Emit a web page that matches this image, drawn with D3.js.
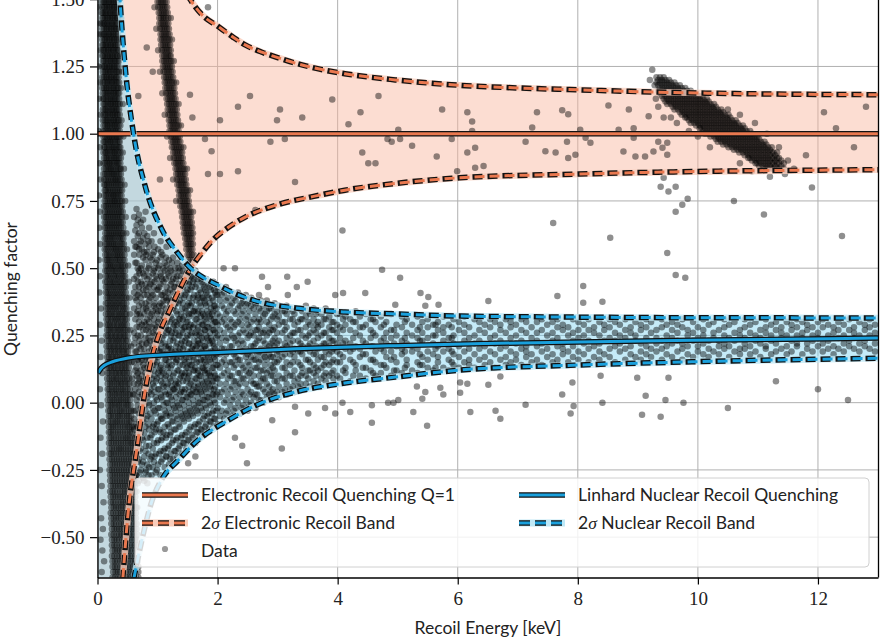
<!DOCTYPE html>
<html>
<head>
<meta charset="utf-8">
<script src="https://cdn.jsdelivr.net/npm/d3@7/dist/d3.min.js"></script>
<style>
  body { margin: 0; background: #fff; }
  svg { display: block; }
</style>
</head>
<body>
<svg id="chart" width="883" height="641"></svg>
<script>
// ---------- axis ticks ----------
const xTicks = [0, 2, 4, 6, 8, 10, 12];
const yTicks = [-0.5, -0.25, 0, 0.25, 0.5, 0.75, 1, 1.25, 1.5];

// ---------- model curves (energy in keV, quenching factor) ----------
const erLineE = [0, 13];
const erLineQ = [1, 1];

const erUpperE = [1.38, 1.45, 1.57, 1.75, 2.0, 2.25, 2.46, 2.75, 3.0, 3.3, 3.58, 4.12, 4.96, 6.03, 7.0, 8.02, 9.6, 11.0, 13.0];
const erUpperQ = [1.57, 1.535, 1.49, 1.44, 1.40, 1.36, 1.33, 1.302, 1.283, 1.262, 1.246, 1.223, 1.2, 1.18, 1.17, 1.163, 1.153, 1.148, 1.145];

const erLowerE = [0.42, 0.51, 0.66, 0.79, 0.93, 1.05, 1.18, 1.375, 1.57, 1.74, 1.9, 2.18, 2.46, 3.0, 3.58, 4.12, 4.96, 6.03, 8.02, 9.6, 13.0];
const erLowerQ = [-0.66, -0.41, -0.166, 0.04, 0.188, 0.27, 0.333, 0.425, 0.505, 0.557, 0.6, 0.652, 0.69, 0.736, 0.766, 0.79, 0.815, 0.836, 0.85, 0.858, 0.866];

const nrLineE = [0.005, 0.06, 0.125, 0.25, 0.51, 1.07, 2.18, 3.3, 4.96, 6.5, 8.02, 9.9, 13.0];
const nrLineQ = [0.11, 0.128, 0.14, 0.152, 0.166, 0.177, 0.188, 0.2, 0.212, 0.22, 0.226, 0.232, 0.24];

const nrUpperE = [0.33, 0.375, 0.46, 0.6, 0.8, 1.07, 1.34, 1.55, 1.8, 2.0, 2.2, 2.74, 3.3, 4.12, 4.96, 6.03, 8.02, 9.6, 13.0];
const nrUpperQ = [1.7, 1.5, 1.25, 1.0, 0.8, 0.645, 0.555, 0.5, 0.46, 0.438, 0.415, 0.372, 0.352, 0.337, 0.33, 0.322, 0.318, 0.316, 0.315];

const nrLowerE = [0.6, 0.75, 0.9, 1.09, 1.34, 1.62, 2.18, 2.74, 3.3, 4.12, 4.96, 6.03, 8.02, 9.9, 13.0];
const nrLowerQ = [-0.66, -0.5, -0.37, -0.278, -0.215, -0.15, -0.065, 0, 0.04, 0.073, 0.095, 0.121, 0.14, 0.152, 0.165];

// ---------- measured events ----------
// low-energy band: [Q, E, E, ...]
const lowBandRows = [
[1.49,.07,.1,.12,.15,.18,.2,.23,.26,.28,.31,.34],[1.47,.08,.11,.13,.16,.19,.21,.24,.27,.29,.32,.35,.02],
[1.45,.07,.09,.12,.14,.17,.2,.22,.25,.28,.3,.33],[1.43,.08,.1,.13,.16,.18,.21,.24,.26,.29,.32,.34,.39],
[1.41,.07,.1,.12,.15,.17,.2,.23,.25,.28,.31,.33,.04],[1.39,.08,.11,.14,.16,.19,.22,.24,.27,.3,.32,.35],
[1.37,.07,.1,.12,.15,.18,.2,.23,.26,.28,.31,.34,.03],[1.35,.08,.11,.13,.16,.19,.21,.24,.27,.29,.32,.35,.4],
[1.33,.08,.1,.13,.15,.18,.21,.23,.26,.29,.31,.34],[1.31,.09,.11,.14,.17,.19,.22,.25,.27,.3,.33,.35,.05],
[1.29,.08,.1,.13,.16,.18,.21,.24,.26,.29,.32,.34,.38],[1.27,.09,.11,.14,.17,.2,.22,.25,.28,.3,.33,.36],
[1.25,.08,.11,.13,.16,.19,.21,.24,.27,.29,.32,.35,.02],[1.23,.09,.12,.14,.17,.2,.22,.25,.28,.31,.33,.36,.41],
[1.21,.08,.11,.14,.16,.19,.22,.24,.27,.3,.32,.35],[1.19,.09,.12,.15,.17,.2,.23,.25,.28,.31,.33,.36,.04],
[1.17,.08,.11,.14,.16,.19,.22,.25,.27,.3,.33,.35,.39],[1.15,.09,.12,.15,.17,.2,.23,.26,.28,.31,.34,.36],
[1.13,.09,.11,.14,.17,.2,.22,.25,.28,.3,.33,.36,.03],[1.11,.1,.12,.15,.18,.21,.23,.26,.29,.31,.34,.37,.42],
[1.09,.09,.12,.14,.17,.2,.23,.25,.28,.31,.33,.36],[1.07,.1,.13,.15,.18,.21,.24,.26,.29,.32,.34,.37,.05],
[1.05,.09,.12,.15,.17,.2,.23,.26,.28,.31,.34,.36,.4],[1.03,.1,.13,.16,.18,.21,.24,.27,.29,.32,.35,.38],
[1.01,.09,.12,.15,.18,.2,.23,.26,.29,.31,.34,.37,.02],[.99,.1,.13,.16,.19,.21,.24,.27,.3,.32,.35,.38,.43],
[.97,.1,.12,.15,.18,.21,.23,.26,.29,.32,.35,.37],[.95,.11,.13,.16,.19,.22,.25,.27,.3,.33,.36,.38,.04],
[.93,.1,.13,.15,.18,.21,.24,.27,.29,.32,.35,.38,.42],[.91,.11,.14,.16,.19,.22,.25,.28,.3,.33,.36,.39],
[.89,.1,.13,.16,.19,.21,.24,.27,.3,.33,.35,.38,.03],[.87,.11,.14,.17,.2,.22,.25,.28,.31,.34,.37,.39,.44],
[.85,.1,.13,.16,.19,.22,.25,.27,.3,.33,.36,.39],[.83,.11,.14,.17,.2,.23,.26,.29,.31,.34,.37,.4,.05],
[.81,.11,.13,.16,.19,.22,.25,.28,.31,.34,.37,.4,.45],[.79,.12,.14,.17,.2,.23,.26,.29,.32,.35,.38,.41],
[.77,.11,.14,.17,.2,.23,.26,.28,.31,.34,.37,.4,.02],[.75,.12,.15,.18,.21,.24,.27,.29,.32,.35,.38,.41,.46],
[.73,.11,.14,.17,.2,.23,.26,.29,.32,.35,.38,.41],[.71,.12,.15,.18,.21,.24,.27,.3,.33,.36,.39,.42,.04],
[.69,.11,.14,.17,.2,.23,.26,.29,.32,.35,.38,.41,.47],[.67,.12,.15,.18,.21,.24,.27,.3,.33,.36,.39,.42],
[.65,.12,.15,.18,.21,.24,.27,.3,.33,.36,.39,.43,.03],[.63,.13,.16,.19,.22,.25,.28,.31,.34,.37,.4,.43,.48],
[.61,.12,.15,.18,.21,.24,.27,.3,.34,.37,.4,.43],[.59,.13,.16,.19,.22,.25,.28,.31,.34,.38,.41,.44,.05],
[.57,.12,.15,.18,.22,.25,.28,.31,.34,.37,.4,.44,.49],[.55,.13,.16,.19,.22,.26,.29,.32,.35,.38,.41,.45],
[.53,.13,.16,.19,.22,.25,.29,.32,.35,.38,.42,.45,.02],[.51,.14,.17,.2,.23,.26,.29,.33,.36,.39,.42,.46,.51],
[.49,.13,.16,.19,.23,.26,.29,.32,.36,.39,.42,.46],[.47,.14,.17,.2,.23,.27,.3,.33,.36,.4,.43,.46,.04],
[.45,.13,.16,.2,.23,.26,.29,.33,.36,.39,.43,.46,.52],[.43,.14,.17,.2,.24,.27,.3,.34,.37,.4,.44,.47],
[.41,.14,.17,.2,.23,.27,.3,.33,.37,.4,.43,.47,.03],[.39,.15,.18,.21,.24,.28,.31,.34,.38,.41,.44,.48,.53],
[.37,.14,.17,.21,.24,.27,.31,.34,.37,.41,.44,.48],[.35,.15,.18,.21,.25,.28,.31,.35,.38,.42,.45,.48,.06],
[.33,.14,.18,.21,.24,.28,.31,.35,.38,.41,.45,.48,.54],[.31,.15,.18,.22,.25,.29,.32,.35,.39,.42,.46,.49],
[.29,.15,.18,.21,.25,.28,.32,.35,.39,.42,.45,.49,.04],[.27,.16,.19,.22,.26,.29,.33,.36,.39,.43,.46,.5,.55],
[.25,.15,.18,.22,.25,.29,.32,.36,.39,.43,.46,.5],[.23,.16,.19,.23,.26,.3,.33,.36,.4,.43,.47,.5,.07],
[.21,.15,.19,.22,.26,.29,.33,.36,.4,.43,.47,.51,.56],[.19,.16,.2,.23,.27,.3,.34,.37,.41,.44,.48,.51],
[.17,.16,.19,.23,.26,.3,.33,.37,.41,.44,.48,.51,.05],[.15,.17,.2,.24,.27,.31,.34,.38,.41,.45,.48,.52,.57],
[.13,.16,.2,.23,.27,.3,.34,.38,.41,.45,.48,.52],[.11,.17,.2,.24,.28,.31,.35,.38,.42,.45,.49,.53,.08],
[.09,.16,.2,.24,.27,.31,.34,.38,.42,.45,.49,.53,.58],[.07,.17,.21,.24,.28,.32,.35,.39,.42,.46,.5,.53],
[.05,.17,.2,.24,.28,.31,.35,.39,.42,.46,.5,.54,.04],[.03,.18,.21,.25,.29,.32,.36,.4,.43,.47,.51,.54,.59],
[.01,.17,.21,.25,.28,.32,.36,.39,.43,.47,.5,.54],[-.01,.18,.22,.25,.29,.33,.36,.4,.44,.48,.51,.55,.06],
[-.03,.18,.21,.25,.29,.33,.37,.4,.44,.48,.52,.56,.6],[-.05,.19,.22,.26,.3,.34,.37,.41,.45,.49,.52,.56],
[-.07,.18,.22,.26,.3,.33,.37,.41,.45,.49,.53,.56,.09],[-.09,.19,.23,.26,.3,.34,.38,.42,.46,.5,.53,.57,.61],
[-.11,.19,.22,.26,.3,.34,.38,.42,.46,.5,.54,.57],[-.13,.2,.23,.27,.31,.35,.39,.43,.47,.5,.54,.58,.05],
[-.15,.19,.23,.27,.31,.35,.39,.43,.47,.51,.55,.58,.62],[-.17,.2,.24,.28,.32,.36,.39,.43,.47,.51,.55,.59],
[-.19,.2,.23,.27,.31,.35,.39,.43,.47,.51,.55,.59,.08],[-.21,.2,.24,.28,.32,.36,.4,.44,.48,.52,.56,.6,.63],
[-.23,.21,.25,.29,.33,.37,.41,.45,.49,.53,.57,.6],[-.25,.2,.24,.28,.32,.36,.4,.44,.48,.52,.56,.6,.04],
[-.27,.21,.25,.29,.33,.37,.41,.45,.49,.53,.57,.61,.64],[-.29,.21,.25,.29,.33,.37,.41,.45,.49,.53,.57,.61],
[-.31,.22,.26,.3,.34,.38,.42,.46,.5,.54,.58,.62,.07],[-.33,.21,.25,.29,.33,.38,.42,.46,.5,.54,.58,.62,.65],
[-.35,.22,.26,.3,.34,.38,.42,.46,.51,.55,.59,.63],[-.37,.22,.26,.3,.35,.39,.43,.47,.51,.55,.59,.63,.1],
[-.39,.23,.27,.31,.35,.39,.43,.47,.51,.56,.6,.64,.66],[-.41,.22,.26,.31,.35,.39,.43,.47,.52,.56,.6,.64],
[-.43,.23,.27,.31,.35,.39,.44,.48,.52,.56,.6,.64,.06],[-.45,.23,.27,.31,.36,.4,.44,.48,.52,.57,.61,.65],
[-.47,.24,.28,.32,.36,.4,.44,.49,.53,.57,.61,.65,.09],[-.49,.23,.27,.32,.36,.4,.44,.49,.53,.57,.61,.66],
[-.51,.24,.28,.32,.36,.41,.45,.49,.53,.58,.62,.66,.05],[-.53,.24,.28,.32,.37,.41,.45,.49,.54,.58,.62,.66],
[-.55,.25,.29,.33,.37,.41,.46,.5,.54,.58,.63,.67,.08],[-.57,.24,.28,.33,.37,.41,.45,.5,.54,.58,.63,.67],
[-.59,.25,.29,.33,.38,.42,.46,.5,.55,.59,.63,.67,.11],[-.61,.25,.29,.33,.38,.42,.46,.51,.55,.59,.64,.68],
[-.63,.26,.3,.34,.38,.43,.47,.51,.56,.6,.64,.68,.07],[-.65,.25,.29,.34,.38,.42,.47,.51,.55,.6,.64,.68]
];

// curved stripe near 1 keV: [Q, E, E, ...]
const stripeRows = [
[1.49,1.0,1.03,1.06,1.09,1.12,1.15],[1.47,1.01,1.04,1.07,1.1,1.13,1.16,.95],[1.45,1.02,1.05,1.08,1.11,1.14,1.17],
[1.43,1.03,1.06,1.09,1.11,1.14,1.18,1.22],[1.41,1.03,1.06,1.09,1.12,1.15,1.18],[1.39,1.04,1.07,1.1,1.13,1.16,1.19,.98],
[1.37,1.05,1.08,1.11,1.14,1.17,1.2],[1.35,1.05,1.08,1.11,1.14,1.17,1.2,1.24],[1.33,1.06,1.09,1.12,1.15,1.18,1.21],
[1.31,1.07,1.1,1.13,1.16,1.19,1.22,1.01],[1.29,1.08,1.11,1.14,1.17,1.2,1.22],[1.27,1.08,1.11,1.14,1.17,1.2,1.23,1.27],
[1.25,1.09,1.12,1.15,1.18,1.21,1.24],[1.23,1.1,1.13,1.16,1.19,1.22,1.25,1.04],[1.21,1.11,1.14,1.17,1.2,1.23,1.26],
[1.19,1.12,1.15,1.18,1.21,1.24,1.27,1.31],[1.17,1.13,1.16,1.19,1.22,1.25,1.28],[1.15,1.14,1.17,1.2,1.23,1.26,1.29,1.08],
[1.13,1.15,1.18,1.21,1.24,1.27,1.3],[1.11,1.16,1.19,1.22,1.25,1.28,1.31,1.35],[1.09,1.17,1.2,1.23,1.26,1.29,1.32],
[1.07,1.18,1.21,1.24,1.27,1.3,1.33,1.12],[1.05,1.19,1.22,1.25,1.28,1.31,1.34],[1.03,1.2,1.23,1.26,1.29,1.32,1.35,1.39],
[1.01,1.2,1.23,1.26,1.29,1.32,1.35],[.99,1.22,1.25,1.28,1.31,1.34,1.37,1.16],[.97,1.23,1.26,1.29,1.32,1.35,1.38],
[.95,1.24,1.27,1.3,1.33,1.36,1.39,1.43],[.93,1.26,1.29,1.32,1.35,1.38,1.41],[.91,1.27,1.3,1.33,1.36,1.39,1.42,1.21],
[.89,1.28,1.31,1.34,1.37,1.4,1.43],[.87,1.3,1.33,1.36,1.39,1.42,1.45,1.49],[.85,1.31,1.34,1.37,1.4,1.43,1.46],
[.83,1.32,1.35,1.38,1.41,1.44,1.47,1.26],[.81,1.33,1.36,1.39,1.42,1.45,1.48],[.79,1.35,1.38,1.41,1.44,1.47,1.5,1.54],
[.77,1.36,1.39,1.42,1.45,1.48,1.51],[.75,1.37,1.4,1.43,1.46,1.49,1.52,1.31],[.73,1.38,1.41,1.44,1.47,1.5,1.53],
[.71,1.4,1.43,1.46,1.49,1.52,1.55,1.59],[.69,1.41,1.44,1.47,1.5,1.53,1.56],[.67,1.42,1.45,1.48,1.51,1.54,1.57],
[.65,1.43,1.46,1.49,1.52,1.55,1.58],[.63,1.44,1.47,1.5,1.53,1.56,1.59],[.61,1.46,1.49,1.52,1.55,1.58],
[.59,1.47,1.5,1.53,1.56,1.59],[.57,1.48,1.52,1.55,1.58],[.55,1.5,1.53,1.57,1.6],[.53,1.51,1.55,1.59],
[.51,1.53,1.57],[.49,1.55,1.6],[.47,1.57]
];

// cluster near 10 keV: [E, Q, Q, ...]
const clusterCols = [
[9.31,1.21,1.19],[9.34,1.2,1.18,1.16],[9.37,1.21,1.19,1.17,1.15],[9.4,1.2,1.18,1.16,1.14],[9.43,1.21,1.19,1.17,1.15,1.13],
[9.46,1.2,1.18,1.16,1.14,1.12],[9.49,1.19,1.17,1.15,1.13,1.11],[9.52,1.2,1.18,1.16,1.14,1.12],
[9.55,1.19,1.17,1.15,1.13,1.11],[9.58,1.18,1.16,1.14,1.12,1.1],[9.61,1.19,1.17,1.15,1.13,1.11,1.09],
[9.64,1.18,1.16,1.14,1.12,1.1],[9.67,1.17,1.15,1.13,1.11,1.09],[9.7,1.18,1.16,1.14,1.12,1.1,1.08],
[9.73,1.17,1.15,1.13,1.11,1.09,1.07],[9.76,1.16,1.14,1.12,1.1,1.08],[9.79,1.17,1.15,1.13,1.11,1.09,1.07,1.06],
[9.82,1.16,1.14,1.12,1.1,1.08,1.06],[9.85,1.15,1.13,1.11,1.09,1.07,1.05],[9.88,1.16,1.14,1.12,1.1,1.08,1.06,1.04],
[9.91,1.15,1.13,1.11,1.09,1.07,1.05],[9.94,1.14,1.12,1.1,1.08,1.06,1.04],[9.97,1.15,1.13,1.11,1.09,1.07,1.05,1.03],
[10.0,1.14,1.12,1.1,1.08,1.06,1.04],[10.03,1.13,1.11,1.09,1.07,1.05,1.03,1.02],[10.06,1.14,1.12,1.1,1.08,1.06,1.04,1.02],
[10.09,1.13,1.11,1.09,1.07,1.05,1.03,1.01],[10.12,1.12,1.1,1.08,1.06,1.04,1.02,1.0],[10.15,1.13,1.11,1.09,1.07,1.05,1.03,1.01],
[10.18,1.12,1.1,1.08,1.06,1.04,1.02,1.0],[10.21,1.11,1.09,1.07,1.05,1.03,1.01,.99],[10.24,1.1,1.08,1.06,1.04,1.02,1.0],
[10.27,1.11,1.09,1.07,1.05,1.03,1.01,.99],[10.3,1.1,1.08,1.06,1.04,1.02,1.0,.98],[10.33,1.09,1.07,1.05,1.03,1.01,.99,.97],
[10.36,1.08,1.06,1.04,1.02,1.0,.98],[10.39,1.09,1.07,1.05,1.03,1.01,.99,.97],[10.42,1.08,1.06,1.04,1.02,1.0,.98,.96],
[10.45,1.07,1.05,1.03,1.01,.99,.97],[10.48,1.06,1.04,1.02,1.0,.98,.96],[10.51,1.07,1.05,1.03,1.01,.99,.97,.95],
[10.54,1.06,1.04,1.02,1.0,.98,.96],[10.57,1.05,1.03,1.01,.99,.97,.95],[10.6,1.04,1.02,1.0,.98,.96,.94],
[10.63,1.05,1.03,1.01,.99,.97,.95],[10.66,1.04,1.02,1.0,.98,.96,.94],[10.69,1.03,1.01,.99,.97,.95,.93],
[10.72,1.02,1.0,.98,.96,.94],[10.75,1.03,1.01,.99,.97,.95,.93],[10.78,1.02,1.0,.98,.96,.94,.92],
[10.81,1.01,.99,.97,.95,.93],[10.84,1.0,.98,.96,.94,.92,.91],[10.87,1.01,.99,.97,.95,.93,.91],
[10.9,1.0,.98,.96,.94,.92,.9],[10.93,.99,.97,.95,.93,.91],[10.96,.98,.96,.94,.92,.9,.89],
[10.99,.99,.97,.95,.93,.91,.89],[11.02,.98,.96,.94,.92,.9,.88],[11.05,.97,.95,.93,.91,.89],
[11.08,.96,.94,.92,.9,.88],[11.11,.97,.95,.93,.91,.89,.87],[11.14,.96,.94,.92,.9,.88],
[11.17,.95,.93,.91,.89,.87],[11.2,.94,.92,.9,.88],[11.23,.95,.93,.91,.89,.87],[11.26,.93,.91,.89,.87],
[11.29,.92,.9,.88],[11.32,.93,.91,.89,.87],[11.35,.91,.89,.87],[11.39,.9,.88],[11.43,.89,.87]
];

// nuclear-recoil population: [E, Q, Q, ...]
const nuclearCols = [
[.61,-.3,-.24,-.19,-.1,-.06,.03,.07,.15,.22,.26,.35,.41,.46,.55,.6,.69],
[.65,-.27,-.2,-.12,-.08,.01,.1,.13,.19,.28,.33,.38,.47,.52,.58,.66,.72],
[.69,-.29,-.21,-.15,-.04,.04,.09,.17,.21,.3,.36,.43,.49,.57,.63,.7],
[.72,-.25,-.17,-.11,-.02,.06,.12,.2,.25,.32,.39,.45,.5,.6,.67],
[.76,-.28,-.22,-.14,-.07,0,.08,.14,.18,.27,.35,.42,.48,.54,.61,.68],
[.8,-.26,-.18,-.09,-.03,.05,.11,.16,.24,.29,.37,.44,.53,.59,.71],
[.83,-.3,-.23,-.13,-.05,.02,.07,.13,.22,.31,.34,.4,.46,.56,.62],
[.86,-.24,-.16,-.1,-.01,.04,.1,.19,.26,.3,.38,.47,.51,.58,.65],
[.9,-.27,-.2,-.12,-.06,.03,.09,.15,.2,.28,.33,.41,.45,.53,.6],
[.94,-.22,-.15,-.08,0,.06,.12,.18,.23,.31,.36,.43,.49,.56,.63],
[.97,-.26,-.19,-.1,-.04,.02,.08,.14,.21,.27,.35,.39,.47,.52],
[1.01,-.23,-.14,-.07,-.02,.05,.11,.17,.25,.3,.34,.42,.5,.57],
[1.05,-.27,-.18,-.11,-.05,.03,.1,.13,.2,.28,.37,.44,.48,.54,.6],
[1.08,-.21,-.13,-.06,.01,.07,.12,.19,.24,.29,.36,.4,.46,.55],
[1.12,-.24,-.17,-.09,-.03,.04,.09,.16,.22,.31,.33,.41,.49,.52],
[1.15,-.2,-.12,-.05,0,.06,.14,.18,.26,.3,.38,.43,.51,.58],
[1.19,-.23,-.16,-.09,-.02,.03,.11,.15,.21,.27,.34,.39,.47,.53],
[1.22,-.19,-.11,-.04,.02,.08,.13,.2,.25,.32,.36,.44,.49],
[1.26,-.21,-.14,-.07,-.01,.05,.1,.17,.23,.28,.35,.41,.46,.54],
[1.3,-.18,-.1,-.03,.04,.07,.15,.19,.26,.3,.37,.43,.5],
[1.33,-.2,-.13,-.06,0,.06,.12,.16,.22,.29,.33,.4,.47,.52],
[1.37,-.16,-.09,-.02,.03,.09,.14,.2,.25,.31,.38,.42,.49],
[1.41,-.19,-.12,-.05,.01,.05,.11,.18,.23,.27,.35,.44,.51],
[1.44,-.15,-.07,-.01,.04,.1,.16,.21,.28,.32,.39,.46],
[1.48,-.17,-.11,-.04,.02,.08,.13,.17,.24,.3,.34,.41,.48],
[1.52,-.14,-.06,0,.06,.11,.15,.22,.27,.33,.37,.44,.5],
[1.55,-.16,-.09,-.03,.03,.07,.14,.19,.25,.29,.36,.42,.47],
[1.59,-.13,-.05,.01,.05,.12,.17,.21,.28,.34,.39,.45],
[1.63,-.15,-.08,-.02,.04,.09,.13,.2,.26,.31,.35,.43,.49],
[1.67,-.11,-.04,.02,.07,.11,.18,.23,.27,.33,.4,.46],
[1.7,-.13,-.07,0,.05,.1,.15,.22,.25,.3,.37,.42],
[1.74,-.1,-.03,.03,.08,.13,.19,.24,.29,.34,.39,.45],
[1.78,-.12,-.05,.01,.06,.12,.16,.21,.27,.32,.38,.43],
[1.81,-.08,-.02,.04,.09,.14,.2,.25,.3,.36,.41,.46],
[1.85,-.1,-.04,.02,.07,.11,.17,.23,.28,.33,.39,.44],
[1.89,-.07,-.01,.05,.1,.15,.19,.24,.31,.35,.42],
[1.93,-.09,-.03,.03,.08,.13,.18,.22,.27,.34,.38,.45],
[1.96,-.06,0,.06,.1,.16,.2,.26,.3,.36,.41],
[2.0,-.08,-.02,.04,.09,.14,.19,.25,.29,.33,.4,.43],
[2.04,-.05,.02,.07,.13,.18,.22,.27,.32,.38,.42],[2.11,-.06,0,.05,.11,.16,.2,.26,.31,.35,.41],
[2.17,-.03,.03,.09,.12,.19,.24,.28,.34,.39],[2.24,-.05,.01,.06,.1,.15,.21,.25,.3,.37,.41],
[2.3,-.02,.04,.08,.14,.17,.23,.29,.33,.38],[2.37,-.04,.02,.07,.11,.16,.2,.26,.31,.36,.4],
[2.43,-.01,.03,.09,.13,.19,.22,.27,.34,.38],[2.5,-.03,.05,.1,.15,.18,.24,.29,.32,.37],
[2.56,0,.04,.08,.12,.17,.21,.26,.3,.36,.39],[2.63,-.02,.03,.07,.13,.16,.22,.27,.33,.37],
[2.69,.01,.06,.1,.15,.19,.24,.28,.31,.35,.4],[2.76,0,.05,.09,.12,.18,.23,.26,.32,.36],
[2.82,.02,.07,.11,.16,.2,.25,.3,.34,.38],[2.89,.01,.04,.1,.14,.17,.22,.27,.31,.35],
[2.95,.03,.08,.12,.15,.21,.24,.28,.33,.37],[3.02,.02,.06,.1,.16,.19,.23,.29,.32,.36],
[3.08,.04,.09,.13,.17,.2,.26,.3,.34],[3.15,.03,.07,.11,.15,.21,.24,.28,.33,.36],
[3.21,.05,.1,.14,.18,.22,.25,.31,.35],[3.28,.04,.08,.12,.17,.2,.26,.29,.33],
[3.34,.06,.09,.15,.19,.23,.27,.3,.35],[3.41,.05,.11,.13,.18,.21,.25,.31,.34],
[3.47,.07,.1,.16,.2,.24,.28,.32,.36],[3.54,.06,.12,.15,.19,.22,.26,.29,.33],
[3.6,.08,.11,.14,.18,.23,.27,.31,.35],[3.67,.07,.12,.16,.2,.24,.28,.3,.34],
[3.73,.09,.13,.17,.21,.25,.29,.33],[3.8,.08,.11,.15,.19,.22,.26,.31,.35],
[3.86,.1,.14,.18,.21,.24,.28,.32],[3.93,.09,.12,.16,.2,.23,.27,.3,.34],[3.99,.1,.15,.19,.22,.26,.29,.33],
[4.04,.09,.15,.18,.24,.28,.33],[4.13,.11,.13,.2,.23,.29,.32],[4.21,.08,.16,.19,.22,.27,.31],
[4.3,.12,.14,.21,.26,.3,.34],[4.37,.1,.17,.2,.25,.28,.32],[4.47,.09,.13,.18,.22,.29,.33],
[4.55,.12,.16,.21,.24,.27,.31],[4.63,.1,.15,.19,.25,.3],[4.72,.11,.14,.2,.23,.28,.32],
[4.81,.13,.17,.22,.26,.3],[4.89,.1,.16,.19,.24,.27,.33],[4.98,.12,.15,.21,.25,.29],
[5.07,.11,.18,.2,.23,.28,.32],[5.15,.14,.16,.22,.26,.31],[5.24,.12,.19,.21,.25,.29],
[5.33,.11,.15,.2,.24,.27,.32],[5.41,.14,.17,.23,.26,.3],[5.5,.13,.16,.19,.24,.28,.31],
[5.59,.12,.18,.22,.25,.29],[5.67,.15,.17,.21,.27,.3],[5.76,.13,.19,.23,.26,.28,.32],
[5.85,.12,.16,.2,.24,.29],[5.93,.14,.18,.22,.25,.31],[6.02,.13,.17,.21,.27,.3],
[6.11,.15,.19,.23,.26,.29,.32],[6.19,.14,.16,.2,.24,.28],[6.28,.13,.18,.22,.25,.31],
[6.36,.16,.2,.23,.27,.3],[6.45,.14,.17,.21,.26,.29],[6.54,.15,.19,.24,.28,.31],
[6.62,.13,.18,.22,.25,.3],[6.71,.16,.2,.23,.27,.29],[6.8,.14,.17,.21,.26,.31],
[6.88,.15,.19,.24,.28,.3],[6.97,.16,.18,.22,.25,.29],[7.06,.14,.2,.23,.27,.31],
[7.14,.17,.19,.21,.26,.3],[7.23,.15,.18,.24,.28],[7.32,.16,.21,.23,.26,.3],
[7.4,.14,.19,.22,.27,.31],[7.49,.17,.2,.25,.29],[7.58,.15,.18,.23,.26,.3],
[7.66,.16,.21,.24,.28,.31],[7.75,.18,.2,.22,.27,.29],[7.84,.15,.19,.25,.28],
[7.92,.17,.21,.23,.26,.31],[8.01,.16,.19,.24,.27,.3],[8.1,.18,.22,.25,.29],
[8.18,.15,.2,.23,.27,.31],[8.27,.17,.21,.26,.28],[8.36,.16,.19,.22,.25,.3],
[8.44,.18,.23,.27,.29],[8.53,.17,.2,.24,.28,.31],[8.62,.15,.21,.23,.26,.3],
[8.7,.19,.22,.25,.29],[8.79,.16,.2,.24,.27,.31],[8.88,.18,.21,.26,.28],
[8.96,.17,.23,.25,.3],[9.05,.16,.19,.22,.27,.29],[9.14,.18,.21,.24,.28,.31],
[9.22,.17,.2,.26,.3],[9.31,.19,.22,.24,.27],[9.4,.16,.2,.23,.28,.31],
[9.48,.18,.21,.25,.29],[9.57,.17,.22,.24,.27,.3],[9.66,.19,.23,.26,.29],
[9.74,.16,.2,.22,.28,.31],[9.83,.18,.21,.25,.27],[9.92,.17,.23,.26,.3],
[10.0,.19,.21,.24,.28],[10.09,.18,.22,.25,.27,.31],[10.18,.17,.2,.23,.29],
[10.26,.19,.24,.26,.3],[10.35,.18,.21,.23,.27],[10.44,.2,.22,.25,.28,.31],
[10.52,.17,.21,.24,.29],[10.61,.19,.23,.26,.3],[10.7,.18,.2,.25,.27],
[10.78,.2,.22,.24,.28,.31],[10.87,.18,.21,.26,.29],[10.96,.19,.23,.25,.3],
[11.04,.17,.22,.24,.27],[11.13,.2,.21,.26,.28,.31],[11.22,.18,.23,.25,.29],
[11.3,.19,.22,.27,.3],[11.39,.2,.24,.26,.28],[11.48,.18,.21,.25,.3],
[11.56,.19,.23,.27,.29],[11.65,.21,.22,.25,.28,.31],[11.74,.18,.24,.26,.3],
[11.82,.2,.22,.27,.29],[11.91,.19,.23,.25,.28],[12.0,.21,.24,.26,.3],
[12.08,.19,.22,.28,.31],[12.17,.2,.23,.25,.29],[12.26,.18,.21,.26,.28],
[12.34,.2,.24,.27,.3],[12.43,.19,.22,.25,.29],[12.52,.21,.23,.27,.31],
[12.6,.2,.24,.26,.28],[12.69,.19,.22,.25,.3],[12.78,.21,.23,.27,.29],
[12.86,.2,.25,.28,.31],[12.95,.19,.22,.26,.29]
];

// second pass over the denser low-energy part of the nuclear population: [E, Q, Q, ...]
const nuclearColsLow = [
[.63,-.28,-.17,-.13,-.03,.05,.12,.19,.24,.31,.39,.43,.52,.58,.64],[.67,-.3,-.22,-.09,-.01,.07,.11,.16,.25,.34,.4,.45,.5,.62,.68],
[.7,-.26,-.18,-.07,.02,.08,.15,.23,.28,.33,.41,.48,.55,.59],[.74,-.23,-.13,-.05,.03,.1,.16,.22,.29,.37,.44,.51,.57,.65],
[.78,-.29,-.2,-.11,-.01,.06,.13,.2,.3,.33,.4,.47,.56,.63],[.81,-.25,-.16,-.06,.03,.09,.17,.22,.27,.35,.42,.49,.55],
[.85,-.27,-.19,-.08,0,.08,.15,.24,.28,.36,.43,.5,.6],[.88,-.21,-.13,-.04,.05,.12,.17,.23,.32,.39,.44,.54],
[.92,-.24,-.17,-.09,-.02,.07,.14,.21,.26,.34,.4,.48,.55],[.95,-.2,-.11,-.03,.04,.1,.16,.25,.29,.37,.45,.5,.58],
[.99,-.25,-.15,-.08,.01,.09,.15,.2,.28,.33,.42,.46,.53],[1.03,-.19,-.1,-.02,.05,.12,.19,.23,.31,.36,.43,.51],
[1.06,-.22,-.14,-.06,.02,.08,.14,.22,.27,.34,.4,.47,.56],[1.1,-.18,-.11,-.01,.06,.11,.18,.25,.32,.38,.45,.5],
[1.14,-.2,-.13,-.04,.03,.1,.16,.21,.28,.35,.39,.46,.54],[1.17,-.17,-.08,0,.07,.13,.2,.27,.33,.41,.48],
[1.21,-.21,-.12,-.05,.04,.09,.17,.23,.3,.37,.42,.5],[1.24,-.15,-.07,.01,.06,.14,.19,.26,.31,.38,.45,.52],
[1.28,-.18,-.1,-.02,.05,.11,.18,.24,.29,.36,.43,.48],[1.31,-.14,-.05,.02,.08,.16,.21,.27,.34,.39,.46],
[1.35,-.17,-.08,-.01,.07,.12,.19,.25,.31,.37,.44,.5],[1.39,-.13,-.04,.04,.1,.17,.22,.29,.33,.4,.47],
[1.42,-.15,-.06,.01,.08,.14,.2,.26,.31,.37,.43,.49],[1.46,-.12,-.03,.05,.11,.15,.23,.28,.35,.4,.45],
[1.5,-.14,-.05,.02,.09,.13,.19,.25,.3,.36,.42,.47],[1.53,-.1,-.02,.04,.1,.17,.22,.28,.32,.39,.45],
[1.57,-.12,-.04,.03,.08,.14,.2,.26,.33,.37,.43],[1.61,-.09,-.01,.06,.12,.16,.23,.29,.34,.4,.46],
[1.65,-.11,-.03,.04,.09,.15,.21,.25,.31,.38,.44],[1.68,-.08,0,.06,.12,.18,.22,.28,.34,.39],
[1.72,-.1,-.02,.04,.1,.16,.2,.26,.32,.36,.41,.46],[1.76,-.06,.01,.07,.13,.17,.23,.29,.33,.39,.44],
[1.79,-.09,-.01,.05,.11,.15,.21,.27,.31,.37,.42],[1.83,-.05,.02,.08,.12,.18,.24,.28,.34,.4],
[1.87,-.07,0,.06,.1,.16,.22,.26,.32,.37,.43],[1.91,-.04,.03,.08,.13,.19,.23,.29,.33,.39],
[1.94,-.06,.01,.05,.11,.17,.21,.27,.31,.36,.42],[1.98,-.03,.03,.09,.14,.18,.24,.3,.35,.4],
[2.07,-.03,.04,.1,.15,.2,.24,.3,.36,.4],[2.14,-.04,.01,.07,.14,.18,.23,.29,.33,.38,.43],
[2.21,-.01,.05,.1,.15,.21,.27,.31,.36],[2.27,-.03,.02,.08,.13,.18,.24,.28,.34,.39],
[2.34,0,.06,.11,.16,.22,.25,.3,.35,.41],[2.4,-.02,.04,.09,.14,.19,.23,.29,.33,.37],
[2.47,.01,.07,.12,.17,.2,.26,.31,.36,.4],[2.53,-.01,.03,.11,.14,.19,.25,.28,.34,.38],
[2.6,.02,.07,.1,.16,.21,.25,.31,.35],[2.66,.03,.06,.13,.18,.23,.27,.3,.37],
[2.72,.01,.08,.12,.16,.2,.26,.3,.34,.38],[2.79,.04,.09,.14,.17,.22,.27,.33,.37],
[2.86,.03,.06,.12,.18,.21,.26,.29,.35],[2.92,.05,.1,.13,.17,.23,.27,.32,.36],
[2.99,.04,.08,.15,.18,.22,.26,.31,.34],
[3.12,.05,.09,.13,.18,.22,.27,.3,.34],[3.25,.06,.1,.15,.19,.23,.26,.31,.34],
[3.38,.07,.1,.14,.19,.22,.27,.31,.35],[3.51,.09,.12,.16,.21,.25,.3,.34],
[3.64,.1,.13,.18,.21,.26,.29,.33],[3.77,.1,.14,.17,.22,.26,.31],[3.9,.11,.15,.19,.23,.27,.3,.34],
[4.09,.12,.17,.22,.27,.31],[4.26,.1,.15,.2,.24,.3],[4.42,.13,.18,.23,.28],[4.59,.11,.16,.21,.26,.31],
[4.77,.14,.19,.24,.29],[4.94,.12,.17,.22,.27],[5.12,.13,.19,.24,.3],[5.37,.14,.18,.23,.28],
[5.63,.13,.2,.25,.29],[5.9,.15,.19,.24,.28]
];

// isolated events: [E, Q]
const scatterPts = [
[.82,1.32],[.92,1.23],[.68,1.14],[1.54,1.145],[1.58,1.06],[2.54,1.14],[2.34,1.1],[2.04,1.05],[2.99,1.05],[3.04,1.09],
[3.41,1.06],[3.91,1.127],[4.18,1.035],[4.38,1.08],[4.68,1.14],[4.83,.98],[2.88,.97],[3.12,.98],[2.34,.86],[2.04,.85],
[1.84,.85],[1.9,.935],[1.79,.98],[3.29,.82],[4.41,.93],[4.51,.89],[4.63,.89],[4.08,.64],[2.63,.716],[2.1,.5],
[2.29,.5],[2.74,.468],[3.16,.468],[3.5,.45],[3.32,.43],[4.74,.494],[1.04,.83],[1.84,1.47],
[5.74,1.09],[6.16,1.08],[6.24,1.045],[6.24,1.01],[5.01,1.015],[5.04,.98],[5.24,.955],[4.9,.97],[5.65,.915],[5.9,.98],
[6.16,.93],[6.29,.948],[6.29,.873],[6.43,.88],[5.99,.86],[7.13,.97],[7.24,1.023],[7.32,1.08],[7.46,.935],[7.63,.93],
[7.74,1.087],[7.84,1.072],[7.82,.97],[7.84,.91],[7.96,.922],[8.04,1.015],[8.13,.985],[8.21,.966],[8.51,1.105],[8.68,1.015],
[8.76,.934],[8.85,1.09],[8.93,1.02],[8.93,.985],[8.96,.915],[9.12,.915],[9.18,1.065],[9.26,.934],[9.34,.97],[9.34,1.1],
[9.43,1.06],[9.49,.922],[9.49,.966],[9.41,.948],[9.24,1.238],[9.38,.803],[9.51,.785],[9.63,.803],[9.43,.836],[9.74,.736],
[9.63,.71],[9.83,.758],[7.59,.668],[8.54,.613],[9.49,.556],[9.63,.475],[9.79,.464],[5.04,.464],[8.09,.434],
[5.38,.408],[5.51,.393],[4.96,.364],[5.46,.36],[5.68,.364],[6.51,.378],[7.66,.397],[8.09,.371],[8.41,.375],
[4.93,0],[5.01,.01],[5.26,-.035],[5.41,.015],[5.46,.04],[5.49,-.086],[5.32,.06],[5.71,.055],[5.76,.03],[6.04,.037],
[6.04,.075],[6.16,.07],[6.21,-.035],[6.51,.067],[6.63,-.03],[6.71,-.06],[6.71,.097],[7.13,-.008],[7.74,.03],[7.91,.075],
[7.93,-.012],[7.88,-.04],[8.41,0],[8.38,.1],[8.99,.093],[9.13,.026],[9.07,-.045],[9.38,-.052],[9.46,.01],[9.51,.093],[9.76,0],
[2.91,-.065],[3.07,-.17],[2.49,-.225],[3.29,-.11],[3.51,-.04],[3.96,-.04],[4.21,-.035],[4.57,-.075],[4.84,0],[3.79,-.02],
[3.29,-.015],[2.29,-.13],[2.41,-.16],[1.63,-.2],[1.51,-.225],[4.57,-.01],[4.08,0],
[2.84,.43],[3.96,.4],[4.09,.408],[3.17,.4],[4.46,.408],
[9.2,1.2],[9.28,1.18],[9.3,1.13],[9.55,1.06],[9.65,1.04],[10.5,1.09],[10.7,1.07],[10.95,1.04],[11.15,1.0],[11.35,.95],
[11.5,.9],[11.6,.87],[11.45,.85],[11.2,.84],[10.9,.86],[10.7,.89],[10.2,.95],[10.0,.99],[9.85,1.01],[11.8,.92],
[12.3,1.02],[12.6,.95],[12.1,1.08],[12.8,1.1],[11.9,.8],[12.4,.62],[10.6,.75],[11.1,.7],[12.5,.01],[12.0,.05],[11.3,.08],[10.5,-.02]
];

// ---------- layout ----------
const plot = { left: 97.5, right: 878.5, bottom: 577.5 };

const x = d3.scaleLinear().domain([0, 13]).range([97.5, 878]);
const y = d3.scaleLinear().domain([-0.65, 1.5]).range([577.5, -0.8]);

const ORANGE = '#e9784f', BLUE = '#1aa0dc';
const ORANGE_FILL = '#f8b49b', BLUE_FILL = '#7fd3ef';
const HALO_OR = '#f9cdbb', HALO_BL = '#bfe8f6';

const svg = d3.select('#chart');

svg.append('defs').append('clipPath').attr('id', 'plotClip')
  .append('rect')
  .attr('x', plot.left).attr('y', 0)
  .attr('width', plot.right - plot.left).attr('height', plot.bottom);

// grid
const grid = svg.append('g').attr('stroke', '#b0b0b0').attr('stroke-width', 1);
grid.selectAll('line.gx').data(xTicks).join('line')
  .attr('x1', d => x(d)).attr('x2', d => x(d))
  .attr('y1', 0).attr('y2', plot.bottom);
grid.selectAll('line.gy').data(yTicks).join('line')
  .attr('x1', plot.left).attr('x2', plot.right)
  .attr('y1', d => y(d)).attr('y2', d => y(d));

const zip = (es, qs) => es.map((e, i) => [e, qs[i]]);
const line = d3.line().x(d => x(d[0])).y(d => y(d[1])).curve(d3.curveMonotoneX);
const poly = d3.line().x(d => x(d[0])).y(d => y(d[1])).curve(d3.curveLinear);

const inner = svg.append('g').attr('clip-path', 'url(#plotClip)');

// 2-sigma bands (closed outside the visible frame)
const erBand = [[0, 3]].concat(zip(erUpperE, erUpperQ), zip(erLowerE, erLowerQ).reverse(), [[0, -3]]);
const nrBand = [[0.2, 3]].concat(zip(nrUpperE, nrUpperQ), zip(nrLowerE, nrLowerQ).reverse(), [[0.2, -3], [0, -3], [0, 3]]);

inner.append('path').attr('d', poly(erBand) + 'Z')
  .attr('fill', ORANGE_FILL).attr('fill-opacity', 0.45);
inner.append('path').attr('d', poly(nrBand) + 'Z')
  .attr('fill', BLUE_FILL).attr('fill-opacity', 0.45);

// events
const fromRows = rows => rows.flatMap(r => r.slice(1).map(e => [e, r[0]]));
const fromCols = cols => cols.flatMap(c => c.slice(1).map(q => [c[0], q]));
const events = [].concat(
  fromRows(lowBandRows), fromRows(stripeRows),
  fromCols(clusterCols), fromCols(nuclearCols), fromCols(nuclearColsLow), scatterPts
);
inner.append('g').selectAll('circle').data(events).join('circle')
  .attr('cx', d => x(d[0])).attr('cy', d => y(d[1])).attr('r', 3.25)
  .attr('fill', '#000').attr('fill-opacity', 0.44);

// outlined curves
function dashedCurve(g, pts, color, halo) {
  g.append('path').attr('d', line(pts)).attr('fill', 'none')
    .attr('stroke', halo).attr('stroke-width', 6.5).attr('stroke-opacity', 0.8);
  g.append('path').attr('d', line(pts)).attr('fill', 'none')
    .attr('stroke', '#111').attr('stroke-width', 5.5).attr('stroke-dasharray', '10,5');
  g.append('path').attr('d', line(pts)).attr('fill', 'none')
    .attr('stroke', color).attr('stroke-width', 3).attr('stroke-dasharray', '10,5')
    .attr('stroke-dashoffset', -2);
}
function solidCurve(g, pts, color) {
  g.append('path').attr('d', line(pts)).attr('fill', 'none')
    .attr('stroke', '#111').attr('stroke-width', 5.5);
  g.append('path').attr('d', line(pts)).attr('fill', 'none')
    .attr('stroke', color).attr('stroke-width', 3);
}

dashedCurve(inner, zip(erUpperE, erUpperQ), ORANGE, HALO_OR);
dashedCurve(inner, zip(erLowerE, erLowerQ), ORANGE, HALO_OR);
solidCurve(inner, zip(erLineE, erLineQ), ORANGE);
dashedCurve(inner, zip(nrUpperE, nrUpperQ), BLUE, HALO_BL);
dashedCurve(inner, zip(nrLowerE, nrLowerQ), BLUE, HALO_BL);
solidCurve(inner, zip(nrLineE, nrLineQ), BLUE);

// axes
const tickFont = '"Liberation Serif", "DejaVu Serif", serif';
const labelFont = 'Lato, "Open Sans", sans-serif';

const xAxis = svg.append('g').attr('transform', `translate(0,${plot.bottom})`)
  .call(d3.axisBottom(x).tickValues(xTicks).tickSize(7).tickPadding(7).tickSizeOuter(0).tickFormat(d3.format('d')));
const yAxis = svg.append('g').attr('transform', `translate(${plot.left},0)`)
  .call(d3.axisLeft(y).tickValues(yTicks).tickSize(7.5).tickPadding(5.5).tickSizeOuter(0).tickFormat(d3.format('.2f')));
[xAxis, yAxis].forEach(a => {
  a.selectAll('text').attr('font-family', tickFont).attr('font-size', 19).attr('fill', '#222');
  a.selectAll('line').attr('stroke', '#000').attr('stroke-width', 1.2);
  a.select('.domain').attr('stroke', '#000').attr('stroke-width', 1.3);
});
// right spine
svg.append('line').attr('x1', plot.right).attr('x2', plot.right)
  .attr('y1', 0).attr('y2', plot.bottom).attr('stroke', '#000').attr('stroke-width', 1.3);

svg.append('text').attr('x', (plot.left + plot.right) / 2).attr('y', 634)
  .attr('text-anchor', 'middle').attr('font-family', labelFont).attr('font-size', 17.5)
  .attr('fill', '#222').text('Recoil Energy [keV]');
svg.append('text').attr('transform', `translate(17,289) rotate(-90)`)
  .attr('text-anchor', 'middle').attr('font-family', labelFont).attr('font-size', 17.5)
  .attr('fill', '#222').text('Quenching factor');

// legend
const lg = svg.append('g');
lg.append('rect').attr('x', 135).attr('y', 478).attr('width', 734).attr('height', 89).attr('rx', 4)
  .attr('fill', '#fff').attr('fill-opacity', 0.82).attr('stroke', '#d0d0d0');

function legendHandle(x0, yy, kind, color, halo) {
  const pts = [[x0, yy], [x0 + 46, yy]];
  const l = d3.line();
  if (kind === 'solid') {
    lg.append('path').attr('d', l(pts)).attr('stroke', '#111').attr('stroke-width', 5.5);
    lg.append('path').attr('d', l(pts)).attr('stroke', color).attr('stroke-width', 3);
  } else {
    lg.append('path').attr('d', l(pts)).attr('stroke', halo).attr('stroke-width', 7);
    lg.append('path').attr('d', l(pts)).attr('stroke', '#111').attr('stroke-width', 5.5).attr('stroke-dasharray', '11,5');
    lg.append('path').attr('d', l(pts)).attr('stroke', color).attr('stroke-width', 3).attr('stroke-dasharray', '11,5');
  }
}
function legendText(x0, yy, parts) {
  const t = lg.append('text').attr('x', x0).attr('y', yy + 6)
    .attr('font-family', labelFont).attr('font-size', 17.5).attr('fill', '#222');
  parts.forEach(p => {
    const s = t.append('tspan').text(p.t);
    if (p.math) s.attr('font-family', tickFont).attr('font-style', 'italic');
  });
}
legendHandle(142, 495, 'solid', ORANGE);
legendText(201, 495, [{ t: 'Electronic Recoil Quenching Q=1' }]);
legendHandle(142, 523, 'dashed', ORANGE, HALO_OR);
legendText(201, 523, [{ t: '2' }, { t: 'σ', math: true }, { t: ' Electronic Recoil Band' }]);
lg.append('circle').attr('cx', 165).attr('cy', 549).attr('r', 3.1).attr('fill', '#000').attr('fill-opacity', 0.4);
legendText(201, 551, [{ t: 'Data' }]);
legendHandle(519, 495, 'solid', BLUE);
legendText(578, 495, [{ t: 'Linhard Nuclear Recoil Quenching' }]);
legendHandle(519, 523, 'dashed', BLUE, HALO_BL);
legendText(578, 523, [{ t: '2' }, { t: 'σ', math: true }, { t: ' Nuclear Recoil Band' }]);
</script>
</body>
</html>
